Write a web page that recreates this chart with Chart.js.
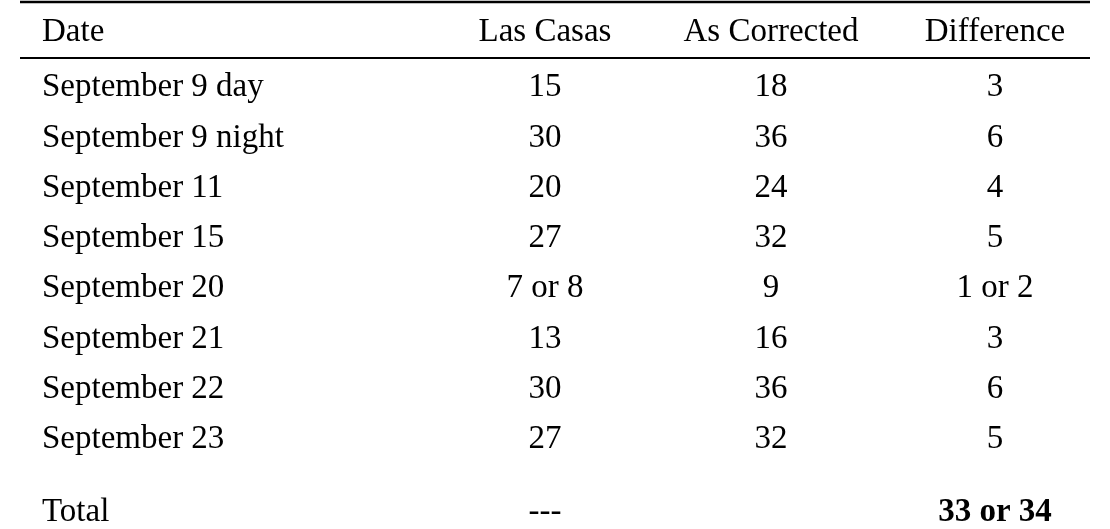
<!DOCTYPE html>
<html lang="en">
<head>
<meta charset="UTF-8">
<title>Las Casas vs As Corrected</title>
<style>
  html, body { margin: 0; padding: 0; background: #fff; }
  #wrap { width: 1110px; height: 529px; }
</style>
</head>
<body>
<div id="wrap"><canvas id="table"></canvas></div>
<script src="https://cdn.jsdelivr.net/npm/chart.js"></script>
<script>
// table data
const headers = ['Date', 'Las Casas', 'As Corrected', 'Difference'];
const dates = ['September 9 day', 'September 9 night', 'September 11', 'September 15',
               'September 20', 'September 21', 'September 22', 'September 23', 'Total'];
const lasCasas = ['15', '30', '20', '27', '7 or 8', '13', '30', '27', '---'];
const corrected = ['18', '36', '24', '32', '9', '16', '36', '32', ''];
const difference = ['3', '6', '4', '5', '1 or 2', '3', '6', '5', '33 or 34'];

// layout (pixel units of the hidden linear scales)
const colX = [42, 545, 771, 995];
const headerY = 32;
const rowY = [87, 138, 188, 238, 288, 339, 389, 439, 512];

const tablePlugin = {
  id: 'tableText',
  afterDraw(chart) {
    const { ctx, scales: { x, y } } = chart;
    ctx.save();
    ctx.fillStyle = '#000';
    ctx.strokeStyle = '#000';
    // rules
    ctx.lineWidth = 2.5;
    ctx.beginPath();
    ctx.moveTo(x.getPixelForValue(20), y.getPixelForValue(2));
    ctx.lineTo(x.getPixelForValue(1090), y.getPixelForValue(2));
    ctx.stroke();
    ctx.lineWidth = 2;
    ctx.beginPath();
    ctx.moveTo(x.getPixelForValue(20), y.getPixelForValue(58));
    ctx.lineTo(x.getPixelForValue(1090), y.getPixelForValue(58));
    ctx.stroke();

    ctx.textBaseline = 'middle';
    const font = '33px "Liberation Serif", "Times New Roman", serif';
    const cell = (txt, col, yy, bold) => {
      ctx.font = (bold ? 'bold ' : '') + font;
      ctx.textAlign = col === 0 ? 'left' : 'center';
      ctx.fillText(txt, x.getPixelForValue(colX[col]), y.getPixelForValue(yy));
    };
    headers.forEach((h, i) => cell(h, i, headerY));
    dates.forEach((d, r) => {
      const last = r === dates.length - 1;
      cell(d, 0, rowY[r]);
      cell(lasCasas[r], 1, rowY[r]);
      cell(corrected[r], 2, rowY[r]);
      cell(difference[r], 3, rowY[r], last);
    });
    ctx.restore();
  }
};

new Chart(document.getElementById('table'), {
  type: 'scatter',
  data: { datasets: [{ data: [], pointRadius: 0 }] },
  options: {
    responsive: true,
    maintainAspectRatio: false,
    animation: false,
    layout: { padding: 0 },
    plugins: { legend: { display: false }, tooltip: { enabled: false } },
    scales: {
      x: { type: 'linear', min: 0, max: 1110, display: false },
      y: { type: 'linear', min: 0, max: 529, reverse: true, display: false }
    }
  },
  plugins: [tablePlugin]
});
</script>
</body>
</html>
